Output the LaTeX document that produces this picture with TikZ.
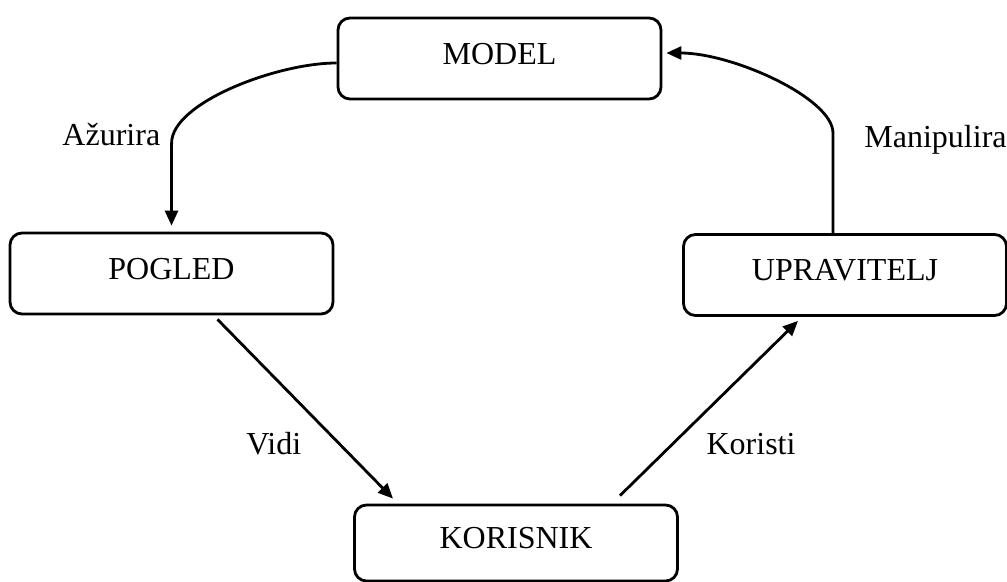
\documentclass[tikz,border=0pt]{standalone}
\usepackage{fontspec}
\setmainfont{Liberation Serif}
\usetikzlibrary{arrows.meta}

\begin{document}
\begin{tikzpicture}[
  x=0.5pt,
  y=-0.5pt,
  font=\fontsize{16}{19}\selectfont,
  box/.style={draw, line width=1.4pt, rounded corners=6pt, minimum width=161.5pt, minimum height=40.5pt, text height=11pt, text depth=5pt},
  lbl/.style={inner sep=0pt},
  arr/.style={-{Triangle[length=7.5pt,width=6.5pt]}, line width=1.4pt}
]
\useasboundingbox (0,0) rectangle (1007,582);

% Komponente (MVC)
\node[box] (model)      at (499.5, 58.5) {MODEL};
\node[box] (pogled)     at (171.5,273.5) {POGLED};
\node[box] (upravitelj) at (845,  275)   {UPRAVITELJ};
\node[box, minimum height=38pt] (korisnik) at (516, 543) {KORISNIK};

% Model -> Pogled
\draw[arr, shorten >=3pt] ([yshift=-2.25pt]model.west)
  to[out=180, in=90, out distance=30pt, in distance=20pt] ++(-165,80)
  node[lbl, anchor=base east, xshift=-5pt, yshift=-1.5pt] {Ažurira}
  -- (pogled.north);

% Upravitelj -> Model
\draw[arr, shorten >=2pt] ([xshift=-6pt]upravitelj.north) -- ++(0,-100)
  node[lbl, anchor=base west, xshift=15pt, yshift=-7pt] {Manipulira}
  to[out=90, in=0, out distance=17.5pt, in distance=35pt] ([yshift=2.75pt]model.east);

% Pogled -> Korisnik
\draw[arr] ([xshift=23pt,yshift=-2pt]pogled.south) -- ([xshift=-61.5pt,yshift=2.5pt]korisnik.north)
  node[lbl, pos=0.753, anchor=base east, xshift=-23.5pt] {Vidi};

% Korisnik -> Upravitelj
\draw[arr] ([xshift=52pt,yshift=4pt]korisnik.north) -- ([xshift=-23.5pt,yshift=-2pt]upravitelj.south)
  node[lbl, pos=0.237, anchor=base west, xshift=21.5pt] {Koristi};

\end{tikzpicture}
\end{document}
